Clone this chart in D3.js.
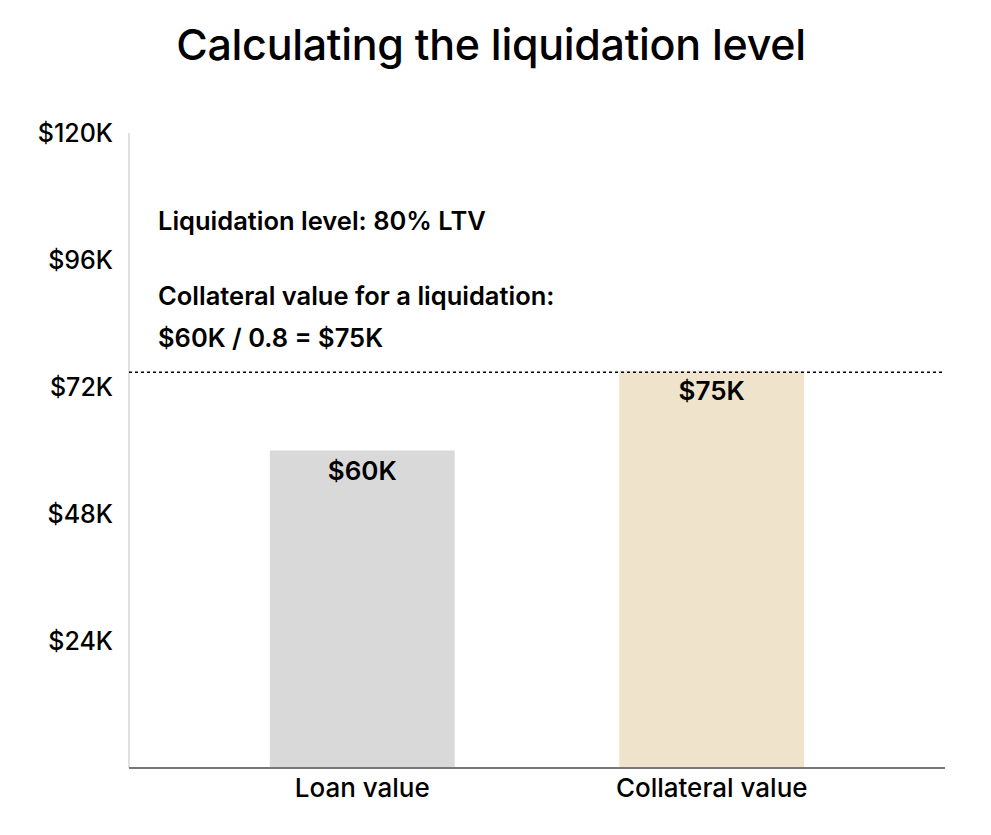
<!DOCTYPE html>
<html><head><meta charset="utf-8">
<script src="https://cdn.jsdelivr.net/npm/d3@7"></script>
<style>
html,body{margin:0;padding:0;background:#fff;}
text{font-family:Inter,"Noto Sans",sans-serif;fill:#000;}
</style></head>
<body><svg id="c" width="991" height="835"></svg>
<script>
const categories = ["Loan value", "Collateral value"];
const values = [60000, 75000];
const barColors = ["#d9d9d9", "#efe3cb"];
const barLabels = ["$60K", "$75K"];
const yTicks = [24000, 48000, 72000, 96000, 120000];
const yTickLabels = ["$24K", "$48K", "$72K", "$96K", "$120K"];
const liquidationValue = 75000;
const annotations = ["Liquidation level: 80% LTV", "Collateral value for a liquidation:", "$60K / 0.8 = $75K"];
const title = "Calculating the liquidation level";

(function(){
const svg = d3.select("#c");
const mL = 129, mR = 945, mT = 133, mB = 768;

const y = d3.scaleLinear().domain([0, 120000]).range([mB, mT]);
const x = d3.scaleBand().domain(categories).range([mL, mR]).paddingInner(0.471).paddingOuter(0.403);

svg.append("text").attr("x", 491).attr("y", 60).attr("text-anchor", "middle")
  .style("font-size", "43px").style("font-weight", 500).style("letter-spacing", "-0.3px").text(title);

// y axis
const yAxis = d3.axisLeft(y).tickValues(yTicks).tickSize(0).tickPadding(16)
  .tickFormat((d, i) => yTickLabels[i]);
const yg = svg.append("g").attr("transform", `translate(${mL},0)`).call(yAxis);
yg.select(".domain").remove();
yg.selectAll("text").style("font-size", "25px").style("font-weight", 500)
  .style("font-family", "Inter,'Noto Sans',sans-serif").attr("fill", "#000");
svg.append("line").attr("x1", mL).attr("x2", mL).attr("y1", mT).attr("y2", mB)
  .attr("stroke", "#e0e0e0").attr("stroke-width", 2);

// bars
svg.selectAll("rect.bar").data(values).join("rect").attr("class", "bar")
  .attr("x", (d, i) => x(categories[i])).attr("width", x.bandwidth())
  .attr("y", d => y(d)).attr("height", d => mB - y(d))
  .attr("fill", (d, i) => barColors[i]);

svg.selectAll("text.blab").data(values).join("text").attr("class", "blab")
  .attr("x", (d, i) => x(categories[i]) + x.bandwidth() / 2).attr("y", d => y(d) + 29)
  .attr("text-anchor", "middle").style("font-size", "26px").style("font-weight", 600)
  .text((d, i) => barLabels[i]);

// x axis
const xAxis = d3.axisBottom(x).tickSize(0).tickPadding(11);
const xg = svg.append("g").attr("transform", `translate(0,${mB})`).call(xAxis);
xg.select(".domain").attr("stroke", "#777").attr("stroke-width", 2).attr("d", `M${mL},0H${mR}`);
xg.selectAll("text").style("font-size", "26px").style("font-weight", 500)
  .style("font-family", "Inter,'Noto Sans',sans-serif").attr("fill", "#000");

// dotted liquidation line
svg.append("line").attr("x1", mL).attr("x2", mR)
  .attr("y1", y(liquidationValue) + 1).attr("y2", y(liquidationValue) + 1)
  .attr("stroke", "#000").attr("stroke-width", 1.5).attr("stroke-dasharray", "3,3");

// annotations
const annY = [230, 305, 347];
svg.selectAll("text.ann").data(annotations).join("text").attr("class", "ann")
  .attr("x", 158).attr("y", (d, i) => annY[i])
  .style("font-size", "25.5px").style("font-weight", 600).text(d => d);
})();
</script></body></html>
